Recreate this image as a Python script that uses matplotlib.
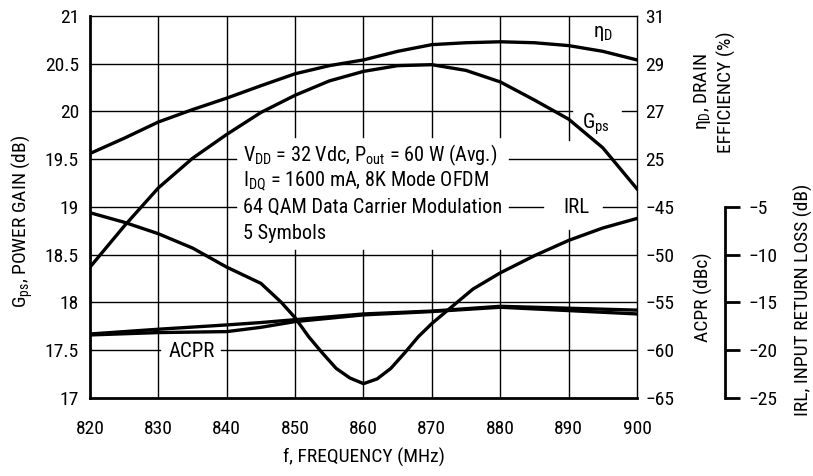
import matplotlib
matplotlib.use("Agg")
import matplotlib.pyplot as plt

plt.rcParams['font.family'] = ['Roboto Condensed', 'DejaVu Sans']
plt.rcParams['mathtext.fontset'] = 'custom'
plt.rcParams['mathtext.rm'] = 'Roboto Condensed'
plt.rcParams['mathtext.it'] = 'Roboto Condensed:italic'
plt.rcParams['mathtext.bf'] = 'Roboto Condensed:bold'
plt.rcParams['font.size'] = 14

# ---- data ----
freq = [820, 825, 830, 835, 840, 845, 850, 855, 860, 865, 870, 875, 880, 885, 890, 895, 900]
gain_gps = [18.37, 18.80, 19.20, 19.51, 19.76, 19.99, 20.17, 20.32, 20.42, 20.48, 20.49, 20.43,
            20.31, 20.12, 19.92, 19.62, 19.19]
drain_eff = [25.24, 25.88, 26.56, 27.08, 27.56, 28.08, 28.58, 28.92, 29.16, 29.52, 29.80, 29.88,
             29.92, 29.88, 29.76, 29.52, 29.16]

freq_irl = [820, 825, 830, 835, 840, 845, 848, 850, 852, 854, 856, 858, 860, 862, 864, 866, 868,
            870, 873, 876, 880, 885, 890, 895, 900]
irl = [-5.6, -6.6, -7.8, -9.3, -11.3, -13.0, -15.0, -16.6, -18.6, -20.3, -21.9, -22.9, -23.5,
       -23.0, -21.9, -20.3, -18.6, -17.2, -15.4, -13.6, -11.9, -10.1, -8.5, -7.2, -6.2]

freq_acpr = [820, 830, 840, 845, 850, 860, 870, 880, 890, 900]
acpr_a = [-58.3, -57.8, -57.35, -57.1, -56.8, -56.2, -55.9, -55.4, -55.6, -55.8]
acpr_b = [-58.4, -58.15, -58.05, -57.6, -57.0, -56.3, -55.95, -55.5, -55.85, -56.2]

freq_ticks = [820, 830, 840, 850, 860, 870, 880, 890, 900]
gain_ticks = [17, 17.5, 18, 18.5, 19, 19.5, 20, 20.5, 21]
gain_tick_labels = ['17', '17.5', '18', '18.5', '19', '19.5', '20', '20.5', '21']
eff_ticks = [25, 27, 29, 31]
acpr_ticks = [-65, -60, -55, -50, -45]
irl_ticks = [-25, -20, -15, -10, -5]

LW = 2.4
fig = plt.figure(figsize=(8.13, 4.76), dpi=100)
ax = fig.add_axes([0.1107, 0.1639, 0.6728, 0.8025])
ax.set_xlim(820, 900)
ax.set_ylim(17, 21)

# grid drawn as segments so labels sit in clean gaps
def vgrid(x, gaps=()):
    lo = 17
    for g0, g1 in gaps:
        ax.plot([x, x], [lo, g0], color='black', lw=1.0, zorder=1)
        lo = g1
    ax.plot([x, x], [lo, 21], color='black', lw=1.0, zorder=1)

def hgrid(y, gaps=()):
    lo = 820
    for g0, g1 in gaps:
        ax.plot([lo, g0], [y, y], color='black', lw=1.0, zorder=1)
        lo = g1
    ax.plot([lo, 900], [y, y], color='black', lw=1.0, zorder=1)

box_gap = (18.55, 19.73)
for x in freq_ticks[1:-1]:
    if x in (850, 860, 870, 880):
        vgrid(x, [box_gap])
    elif x == 890:
        vgrid(x, [(18.76, 19.70)])
    else:
        vgrid(x)
for y in gain_ticks[1:-1]:
    if y == 19.5:
        hgrid(y, [(841.3, 881.3)])
    elif y == 19:
        hgrid(y, [(841.3, 881.3), (886.2, 895.0)])
    elif y == 20:
        hgrid(y, [(890.5, 897.8)])
    elif y == 17.5:
        hgrid(y, [(830.2, 839.2)])
    else:
        hgrid(y)

ax.plot(freq, gain_gps, color='black', lw=LW, zorder=3)

ax.set_xticks(freq_ticks)
ax.set_yticks(gain_ticks, labels=gain_tick_labels)
ax.tick_params(axis='x', length=0, pad=16)
ax.tick_params(axis='y', length=0, pad=8)
for s in ('left', 'bottom'):
    ax.spines[s].set_linewidth(2.0)
for s in ('top', 'right'):
    ax.spines[s].set_linewidth(1.0)
ax.set_xlabel('f, FREQUENCY (MHz)', labelpad=7)

# drain efficiency axis
ax_eff = ax.twinx()
ax_eff.set_ylim(15, 31)
ax_eff.set_yticks(eff_ticks)
ax_eff.plot(freq, drain_eff, color='black', lw=LW, zorder=3)

# ACPR axis
ax_acpr = ax.twinx()
ax_acpr.set_ylim(-65, -25)
ax_acpr.set_yticks(acpr_ticks)
ax_acpr.plot(freq_acpr, acpr_a, color='black', lw=LW, zorder=3)
ax_acpr.plot(freq_acpr, acpr_b, color='black', lw=LW, zorder=3)

for a in (ax_eff, ax_acpr):
    a.tick_params(axis='y', length=0, pad=6)
    for s in a.spines.values():
        s.set_visible(False)

# input return loss axis (offset spine)
ax_irl = ax.twinx()
ax_irl.set_ylim(-25, 15)
ax_irl.plot(freq_irl, irl, color='black', lw=LW, zorder=3)
for s in ('top', 'left', 'bottom'):
    ax_irl.spines[s].set_visible(False)
ax_irl.spines['right'].set_position(('axes', 1.161))
ax_irl.spines['right'].set_bounds(-25, -5)
ax_irl.spines['right'].set_linewidth(2.0)
ax_irl.set_yticks(irl_ticks)
ax_irl.tick_params(axis='y', length=11, width=2.0, pad=6)

# axis titles
fig.text(22 / 813, 1 - 222 / 476, r'G$_\mathregular{ps}$, POWER GAIN (dB)', rotation=90,
         ha='center', va='center')
fig.text(703 / 813, 1 - 297 / 476, 'ACPR (dBc)', rotation=90, ha='center', va='center')
fig.text(714 / 813, 1 - 92 / 476, 'η$_\\mathregular{D}$, DRAIN\nEFFICIENCY (%)', rotation=90,
         ha='center', va='center', linespacing=1.3)
fig.text(803 / 813, 1 - 300 / 476, 'IRL, INPUT RETURN LOSS (dB)', rotation=90,
         ha='center', va='center')

# curve labels
ax.text(895.1, 20.82, 'η$_\\mathregular{D}$', ha='center', va='center', zorder=4, fontsize=15)
ax.text(894.0, 19.87, 'G$_\\mathregular{ps}$', ha='center', va='center', zorder=4, fontsize=15)
ax.text(891.2, 18.99, 'IRL', ha='center', va='center', zorder=4, fontsize=15)
ax.text(834.9, 17.49, 'ACPR', ha='center', va='center', zorder=4, fontsize=15)

# test conditions
cond = ['V$_\\mathregular{DD}$ = 32 Vdc, P$_\\mathregular{out}$ = 60 W (Avg.)',
        'I$_\\mathregular{DQ}$ = 1600 mA, 8K Mode OFDM',
        '64 QAM Data Carrier Modulation',
        '5 Symbols']
for i, line in enumerate(cond):
    ax.text(842.4, 19.545 - i * 0.275, line, ha='left', va='center', zorder=4, fontsize=14.6)

fig.savefig('out.png', dpi=100)
